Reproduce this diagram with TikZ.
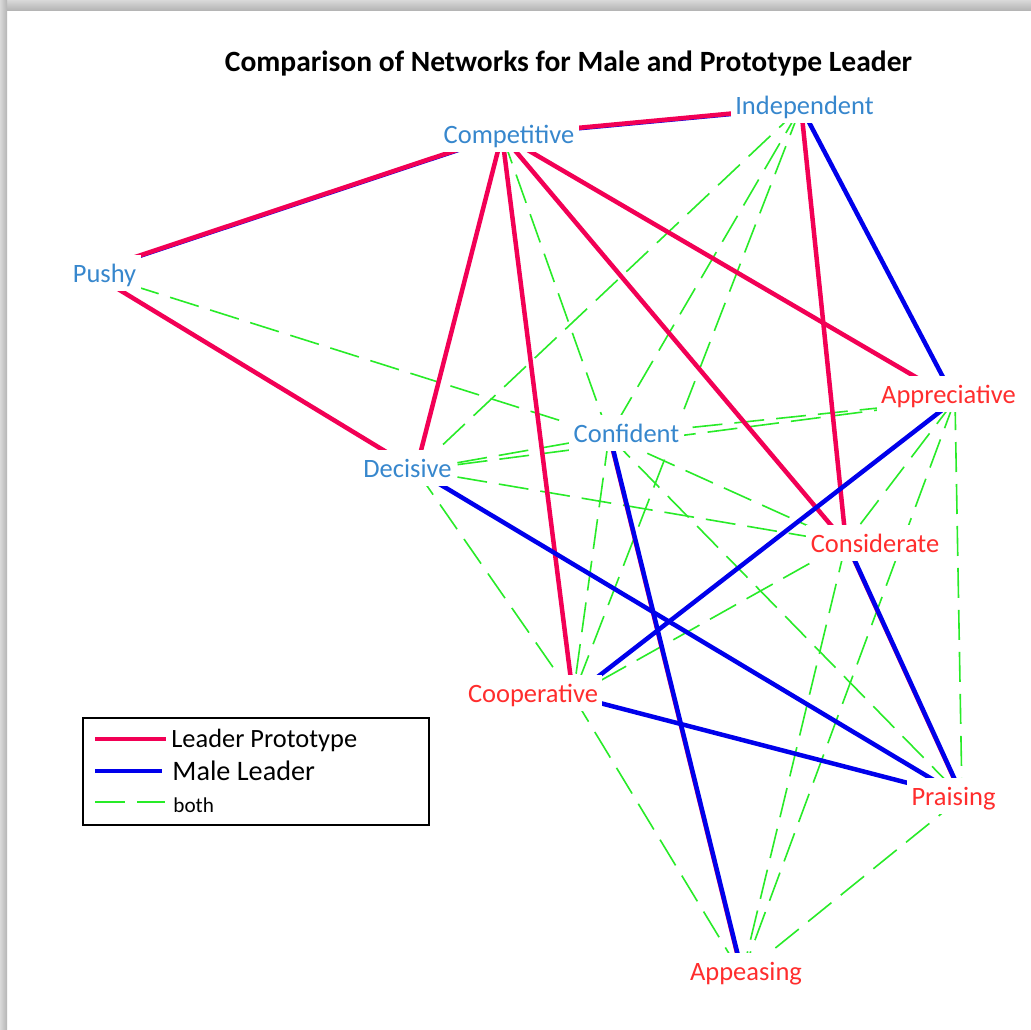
\documentclass[tikz,border=0pt]{standalone}
\usepackage{fontspec}
\setmainfont{Carlito}
\usepackage{graphicx}
\definecolor{protoline}{RGB}{242,0,85}
\definecolor{maleline}{RGB}{0,0,235}
\definecolor{bothline}{RGB}{40,235,40}
\definecolor{bluelab}{RGB}{55,135,205}
\definecolor{redlab}{RGB}{255,45,45}
\begin{document}
\begin{tikzpicture}[x=0.5pt,y=-0.5pt,
  proto/.style={draw=protoline, line width=2.25pt},
  male/.style={draw=maleline, line width=2.25pt},
  both/.style={draw=bothline, line width=0.8pt, dash pattern=on 15pt off 6pt},
  lab/.style={fill=white, font=\fontsize{13.25pt}{15pt}\selectfont,
    inner xsep=2.2pt, inner ysep=1.3pt, text height=12.2pt, text depth=3.2pt, anchor=base},
  mlab/.style={lab, text=bluelab},
  flab/.style={lab, text=redlab},
  legtext/.style={anchor=base west, inner sep=0pt, text=black}]

% page and soft shadow along the top and left edges
\useasboundingbox (0,0) rectangle (1031,1029);
\fill[white] (0,0) rectangle (1031,1029);
\shade[top color=gray!30, bottom color=gray!58] (0,0) rectangle (1031,10);
\shade[left color=gray!30, right color=gray!58] (0,0) rectangle (7,1029);

% title
\node[anchor=base, inner sep=0pt] (title) at (568.5,71)
  {\resizebox{343.5pt}{\height}{\bfseries\fontsize{14.7pt}{17pt}\selectfont Comparison of Networks for Male and Prototype Leader}};

% network points
\coordinate (comp)   at (502,135);
\coordinate (indep)  at (801,107);
\coordinate (pushy)  at (90,272);
\coordinate (decis)  at (416,470);
\coordinate (conf)   at (609,436);
\coordinate (appr)   at (955,400);
\coordinate (consid) at (846,543);
\coordinate (coop)   at (573,696);
\coordinate (prais)  at (962,797);
\coordinate (appeas) at (742,975);

% ties present in both networks
\draw[both] (pushy) -- (conf);
\draw[both] (comp) -- (conf);
\draw[both] (indep) -- (decis);
\draw[both] (indep) -- (conf);
\draw[both] (indep) -- (coop);
\draw[both] (decis) -- (conf);
\draw[both] (decis) -- (appr);
\draw[both] (decis) -- (consid);
\draw[both] (decis) -- (coop);
\draw[both] (conf) -- (appr);
\draw[both] (conf) -- (consid);
\draw[both] (conf) -- (coop);
\draw[both] (conf) -- (prais);
\draw[both] (appr) -- (consid);
\draw[both] (appr) -- (prais);
\draw[both] (appr) -- (appeas);
\draw[both] (consid) -- (coop);
\draw[both] (consid) -- (appeas);
\draw[both] (coop) -- (appeas);
\draw[both] (prais) -- (appeas);

% leader prototype ties
\draw[male, line width=1.8pt, transform canvas={yshift=-0.45pt}] (comp) -- (pushy);
\draw[male, line width=1.8pt, transform canvas={yshift=-0.45pt}] (comp) -- (indep);
\draw[proto] (comp) -- (indep);
\draw[proto] (comp) -- (pushy);
\draw[proto] (pushy) -- (decis);
\draw[proto] (comp) -- (decis);
\draw[proto] (comp) -- (coop);
\draw[proto] (comp) -- (consid);
\draw[proto] (comp) -- (appr);
\draw[proto] (indep) -- (consid);
\draw[proto, line width=1.8pt] (conf) -- (appeas);
\draw[proto, line width=1.8pt] (consid) -- (prais);

% male leader ties
\draw[male] (indep) -- (appr);
\draw[male] (appr) -- (coop);
\draw[male] (decis) -- (prais);
\draw[male, transform canvas={xshift=0.4pt}] (conf) -- (appeas);
\draw[male, transform canvas={xshift=0.4pt}] (consid) -- (prais);
\draw[male] (coop) -- (prais);

% labels
\node[mlab] (comp-l)   at (509,143)   {Competitive};
\node[mlab] (indep-l)  at (804.5,114) {Independent};
\node[mlab] (pushy-l)  at (104.5,282) {Pushy};
\node[mlab] (decis-l)  at (407.5,477) {Decisive};
\node[mlab] (conf-l)   at (626.5,442) {Confident};
\node[flab] (appr-l)   at (948.5,403) {Appreciative};
\node[flab] (consid-l) at (875,552)   {Considerate};
\node[flab] (coop-l)   at (533,702)   {Cooperative};
\node[flab] (prais-l)  at (953.5,805) {Praising};
\node[flab] (appeas-l) at (746,980)   {Appeasing};

% legend
\node[draw=black, line width=1pt, fill=white, anchor=north west, inner sep=0pt,
  minimum width=173.25pt, minimum height=53.75pt] (legend) at (81.5,716.5) {};
\draw[proto] (95,739) -- (166,739);
\draw[male] (95,771) -- (162,771);
\draw[both] (95,802) -- (165,802);
\node[legtext, font=\fontsize{13.2pt}{15pt}\selectfont] (leg-p) at (171,747) {Leader Prototype};
\node[legtext, font=\fontsize{14.1pt}{16pt}\selectfont] (leg-m) at (172,780) {Male Leader};
\node[legtext, font=\fontsize{10.6pt}{12pt}\selectfont] (leg-b) at (173,812) {both};
\end{tikzpicture}
\end{document}
